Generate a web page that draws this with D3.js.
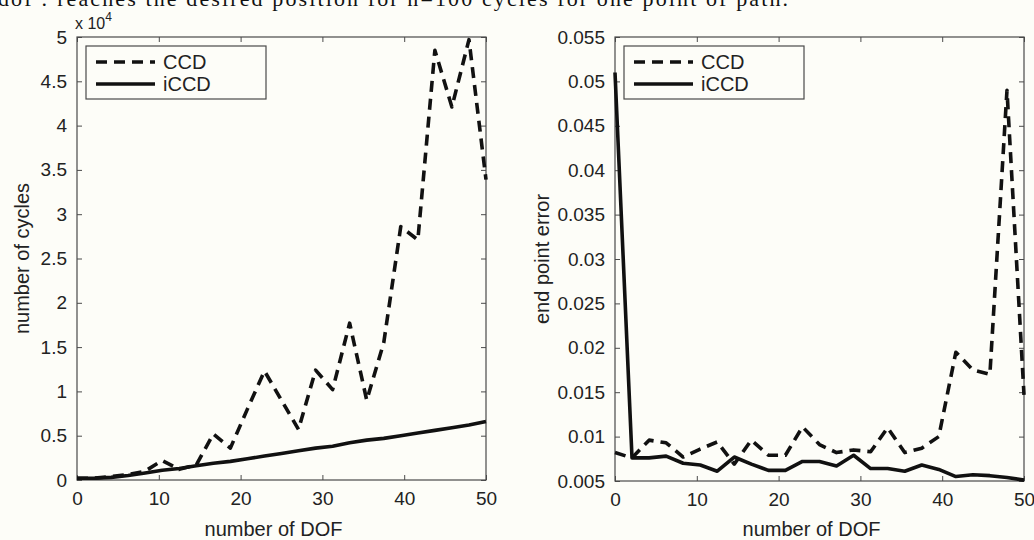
<!DOCTYPE html>
<html>
<head>
<meta charset="utf-8">
<script src="https://cdn.jsdelivr.net/npm/d3@7"></script>
<style>
  body { margin: 0; background: #fdfdf8; }
  svg { display: block; }
</style>
</head>
<body>
<div id="view"></div>
<script>
// DOF values (25 points from 0 to 50)
var dof = [0, 2.08, 4.17, 6.25, 8.33, 10.42, 12.5, 14.58, 16.67, 18.75, 20.83, 22.92,
    25, 27.08, 29.17, 31.25, 33.33, 35.42, 37.5, 39.58, 41.67, 43.75, 45.83, 47.92, 50];

// number of cycles, x 10^4
var cyclesCCD = [0.02, 0.02, 0.04, 0.06, 0.10, 0.22, 0.12, 0.17, 0.52, 0.36, 0.80, 1.23,
    0.90, 0.57, 1.24, 1.02, 1.77, 0.90, 1.55, 2.86, 2.71, 4.85, 4.21, 4.97, 3.39];
var cyclesICCD = [0.02, 0.02, 0.03, 0.05, 0.08, 0.11, 0.13, 0.16, 0.19, 0.21, 0.24, 0.27,
    0.30, 0.33, 0.36, 0.38, 0.42, 0.45, 0.47, 0.50, 0.53, 0.56, 0.59, 0.62, 0.66];

// end point error
var errCCD = [0.0082, 0.0076, 0.0096, 0.0093, 0.0077, 0.0086, 0.0094, 0.0069, 0.0096, 0.0079,
    0.0079, 0.0111, 0.0091, 0.0082, 0.0085, 0.0083, 0.0110, 0.0082, 0.0087, 0.0100,
    0.0195, 0.0175, 0.0170, 0.0490, 0.0147];
var errICCD = [0.0510, 0.0076, 0.0076, 0.0078, 0.0070, 0.0068, 0.0061, 0.0077, 0.0069, 0.0062,
    0.0062, 0.0072, 0.0072, 0.0067, 0.0079, 0.0064, 0.0064, 0.0061, 0.0068, 0.0063,
    0.0055, 0.0057, 0.0056, 0.0054, 0.0051];

var xTicks = [0, 10, 20, 30, 40, 50];
var cycleTicks = [0, 0.5, 1, 1.5, 2, 2.5, 3, 3.5, 4, 4.5, 5];
var errTicks = [0.005, 0.01, 0.015, 0.02, 0.025, 0.03, 0.035, 0.04, 0.045, 0.05, 0.055];
var seriesNames = ["CCD", "iCCD"];

var W = 1034, H = 540;
var font = '"Liberation Sans", Arial, Helvetica, sans-serif';

var svg = d3.select("#view").append("svg")
    .attr("width", W)
    .attr("height", H)
;

svg.append("rect").attr("width", W).attr("height", H).attr("fill", "#fdfdf8");

// clipped caption line from the page above the figure
svg.append("text")
    .attr("x", -2)
    .attr("y", 6)
    .attr("font-family", '"Liberation Serif", "Times New Roman", serif')
    .attr("font-size", 22)
    .attr("fill", "#111")
    .attr("textLength", 790)
    .text("dof : reaches the desired position for n=100 cycles for one point of path.")
;

var panels = [
    {
        x0: 77, x1: 486, y0: 37, y1: 480,
        domain: [0, 5], ticks: cycleTicks, fmt: d => d3.format("")(d),
        series: [cyclesCCD, cyclesICCD],
        ylabel: "number of cycles", ylabelX: 29,
        exponent: true,
    },
    {
        x0: 615, x1: 1024, y0: 37, y1: 481,
        domain: [0.005, 0.055], ticks: errTicks, fmt: d => d3.format("")(+d.toFixed(3)),
        series: [errCCD, errICCD],
        ylabel: "end point error", ylabelX: 549,
        exponent: false,
    },
];

panels.forEach(drawPanel);

function drawPanel(p) {
    var x = d3.scaleLinear().domain([0, 50]).range([p.x0, p.x1]);
    var y = d3.scaleLinear().domain(p.domain).range([p.y1, p.y0]);
    var g = svg.append("g");
    var axisColor = "#4a4a4a";

    // ticks point inside the box, on all four sides
    var bottom = g.append("g")
        .attr("transform", `translate(0, ${p.y1})`)
        .call(d3.axisBottom(x).tickValues(xTicks).tickSizeInner(-5).tickSizeOuter(0).tickPadding(12));
    var top = g.append("g")
        .attr("transform", `translate(0, ${p.y0})`)
        .call(d3.axisTop(x).tickValues(xTicks).tickSizeInner(-5).tickSizeOuter(0).tickFormat(""));
    var left = g.append("g")
        .attr("transform", `translate(${p.x0}, 0)`)
        .call(d3.axisLeft(y).tickValues(p.ticks).tickSizeInner(-5).tickSizeOuter(0).tickPadding(10).tickFormat(p.fmt));
    var right = g.append("g")
        .attr("transform", `translate(${p.x1}, 0)`)
        .call(d3.axisRight(y).tickValues(p.ticks).tickSizeInner(-5).tickSizeOuter(0).tickFormat(""));

    [bottom, top, left, right].forEach(function(a) {
        a.select(".domain").remove();
        a.selectAll("line").attr("stroke", axisColor);
        a.selectAll("text")
            .attr("font-family", font)
            .attr("font-size", 19)
            .attr("fill", "#222");
    });

    g.append("rect")
        .attr("x", p.x0).attr("y", p.y0)
        .attr("width", p.x1 - p.x0).attr("height", p.y1 - p.y0)
        .attr("fill", "none")
        .attr("stroke", axisColor)
        .attr("stroke-width", 1.2)
    ;

    var line = d3.line()
        .x((d, i) => x(dof[i]))
        .y(d => y(d))
    ;

    g.selectAll("path.series")
        .data(p.series)
        .enter()
        .append("path")
        .attr("class", "series")
        .attr("d", d => line(d))
        .attr("fill", "none")
        .attr("stroke", "#111")
        .attr("stroke-width", 3.6)
        .attr("stroke-linejoin", "round")
        .attr("stroke-dasharray", (d, i) => i == 0 ? "11,7" : null)
    ;

    // legend
    var lg = g.append("g").attr("transform", `translate(${p.x0 + 9}, ${p.y0 + 9})`);
    lg.append("rect")
        .attr("width", 180).attr("height", 53)
        .attr("fill", "#fdfdf8")
        .attr("stroke", axisColor)
        .attr("stroke-width", 1.2)
    ;
    var items = lg.selectAll("g.item")
        .data(seriesNames)
        .enter()
        .append("g")
        .attr("class", "item")
        .attr("transform", (d, i) => `translate(0, ${16 + i * 22})`)
    ;
    items.append("line")
        .attr("x1", 10).attr("x2", 69)
        .attr("stroke", "#111")
        .attr("stroke-width", 3.6)
        .attr("stroke-dasharray", (d, i) => i == 0 ? "11,7" : null)
    ;
    items.append("text")
        .attr("x", 77)
        .attr("dy", "0.36em")
        .attr("font-family", font)
        .attr("font-size", 20)
        .attr("fill", "#222")
        .text(d => d)
    ;

    // axis labels
    g.append("text")
        .attr("x", (p.x0 + p.x1) / 2 - 8)
        .attr("y", 536)
        .attr("text-anchor", "middle")
        .attr("font-family", font)
        .attr("font-size", 20)
        .attr("fill", "#222")
        .text("number of DOF")
    ;
    g.append("text")
        .attr("transform", `translate(${p.ylabelX}, ${(p.y0 + p.y1) / 2}) rotate(-90)`)
        .attr("text-anchor", "middle")
        .attr("font-family", font)
        .attr("font-size", 20)
        .attr("fill", "#222")
        .text(p.ylabel)
    ;

    if (p.exponent) {
        var ex = g.append("text")
            .attr("x", p.x0 - 2)
            .attr("y", 29)
            .attr("font-family", font)
            .attr("font-size", 16)
            .attr("fill", "#222")
        ;
        ex.append("tspan").text("x 10");
        ex.append("tspan").attr("dy", -8).attr("font-size", 12).text("4");
    }
}
</script>
</body>
</html>
